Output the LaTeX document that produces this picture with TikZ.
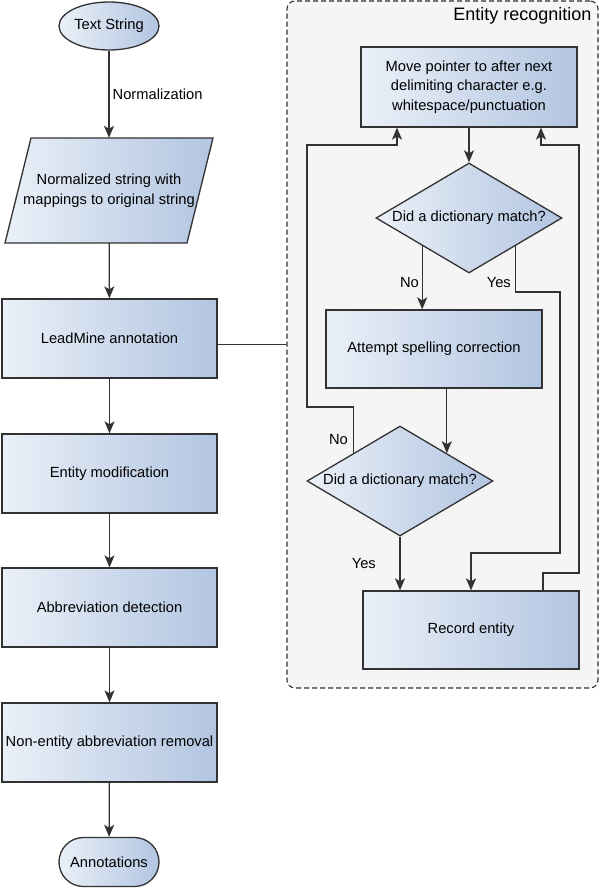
\documentclass[tikz,border=0pt]{standalone}
\usepackage{fontspec}
\setmainfont{Liberation Sans}
\usetikzlibrary{shapes.geometric,shapes.misc,arrows.meta,calc}
\definecolor{lc}{RGB}{50,50,50}
\definecolor{ca}{RGB}{234,240,248}
\definecolor{cb}{RGB}{178,197,225}
\definecolor{bg}{RGB}{245,245,245}
\begin{document}
\begin{tikzpicture}[x=1pt,y=-1pt,
 every node/.style={font=\fontsize{14.7}{19.5}\selectfont},
 fillg/.style={left color=ca,right color=cb,draw=lc,line width=1.3pt},
 box/.style={fillg,rectangle,minimum width=215pt,minimum height=79pt,inner sep=0pt,align=center},
 dia/.style={fillg,diamond,aspect=1.7,inner sep=0pt,minimum width=186pt,minimum height=110pt},
 arr/.style={draw=lc,line width=1.3pt,-{Stealth[length=12pt,width=10pt,inset=3pt]}},
 ln/.style={draw=lc,line width=1.3pt},
 lbl/.style={inner sep=0pt}]
\useasboundingbox (0,0) rectangle (600,888);
\fill[white] (0,0) rectangle (600,888);

% Entity recognition container
\node[draw=lc, line width=1.1pt, dash pattern=on 5pt off 3pt, fill=bg, rounded corners=8pt,
      minimum width=311pt, minimum height=687pt, inner sep=0pt] (er) at (442.5,344.5) {};
\node[anchor=east, font=\fontsize{18}{20}\selectfont] (title) at (595,16) {Entity recognition};

% left column
\node[fillg, ellipse, minimum width=100pt, minimum height=48pt, inner sep=0pt] (ts) at (109,26) {Text String};
\path[fillg] (31,138) -- (213,138) -- (187,243) -- (5,243) -- cycle;
\node[inner sep=0pt, minimum width=180pt, minimum height=105pt, align=center] (norm) at (109,190.5)
  {Normalized string with\\mappings to original string};
\node[box] (lead) at (109.5,338.5) {LeadMine annotation};
\node[box] (ent) at (109.5,473.5) {Entity modification};
\node[box] (abb) at (109.5,607.5) {Abbreviation detection};
\node[box] (non) at (109.5,742.5) {Non-entity abbreviation removal};
\node[fillg, rounded rectangle, minimum width=100pt, minimum height=49pt, inner sep=0pt] (ann) at (109,862) {Annotations};

\draw[arr] (ts) -- node[right, pos=0.5, inner sep=3pt] (normlbl) {Normalization} (norm);
\draw[arr] (norm) -- (lead);
\draw[arr] (lead) -- (ent);
\draw[arr] (ent) -- (abb);
\draw[arr] (abb) -- (non);
\draw[arr] (non) -- (ann);
\draw[ln] (lead.east |- er.west) -- (er.west);

% right column
\node[box, minimum width=216pt, minimum height=80pt] (move) at (469,87)
  {Move pointer to after next\\delimiting character e.g.\\whitespace/punctuation};
\node[dia] (d1) at (469,218) {Did a dictionary match?};
\node[box, minimum width=216pt, minimum height=78pt] (spell) at (434,349) {Attempt spelling correction};
\node[dia] (d2) at (400,481) {Did a dictionary match?};
\node[box, minimum width=216pt, minimum height=78pt] (rec) at (471,630) {Record entity};

\coordinate (y1) at (560,292);
\coordinate (y2) at (560,553);
\coordinate (nl1) at (307,407);
\coordinate (nl2) at (307,145);
\coordinate (rl1) at (579,573);
\coordinate (rl2) at (579,145);

\draw[arr] (move) -- (d1);
\draw[arr] (d1.south west) -- (d1.south west |- spell.north);
\draw[arr] (d1.south east) |- (y1) -- (y2) -| (rec.north);
\draw[arr] (spell.south -| d2.north east) -- (d2.north east);
\draw[arr] (d2.north west) |- (nl1) -- (nl2) -| ([xshift=-72pt]move.south);
\draw[arr] (d2.south) -- (d2.south |- rec.north);
\draw[arr] ([xshift=72pt]rec.north) |- (rl1) -- (rl2) -| ([xshift=72pt]move.south);

\node[lbl, anchor=east] (no1) at (419,283) {No};
\node[lbl, anchor=east] (yes1) at (511,283) {Yes};
\node[lbl, anchor=east] (no2) at (348,440) {No};
\node[lbl, anchor=east] (yes2) at (376,564) {Yes};
\end{tikzpicture}
\end{document}
